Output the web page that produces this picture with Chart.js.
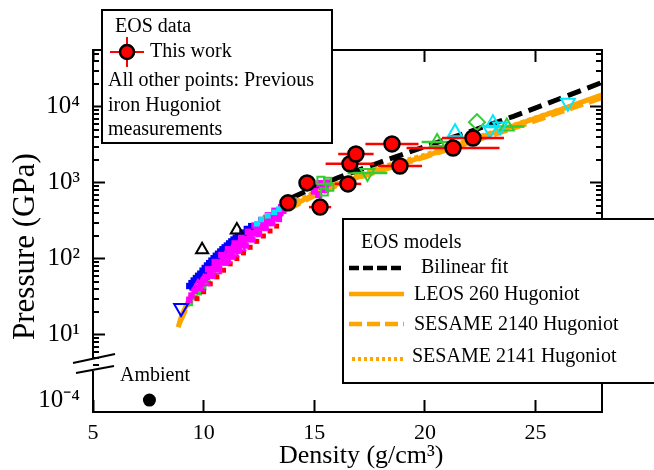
<!DOCTYPE html>
<html>
<head>
<meta charset="utf-8">
<script src="https://cdn.jsdelivr.net/npm/chart.js@4.4.0/dist/chart.umd.min.js"></script>
<style>
  html, body { margin: 0; padding: 0; background: #fff; }
  canvas { display: block; }
</style>
</head>
<body>
<canvas id="chart" width="654" height="470"></canvas>
<script>
const SERIF = '"Liberation Serif", "Times New Roman", serif'
const ORANGE = '#FFA500'
const GREEN = '#33CC33'
const CYAN = '#00E8FF'

/* axes */
const xTicks = [5, 10, 15, 20, 25]
const yTicks = [10, 100, 1000, 10000]
const yTickLabels = ['10¹', '10²', '10³', '10⁴']
const yLowTicks = [1e-4]
const yLowTickLabels = ['10⁻⁴']
const yMin = 3.9
const yMax = 56000

/* this work */
const workDensity = [13.81, 14.67, 15.26, 16.52, 16.61, 16.88, 18.51, 18.87, 21.27, 22.17]
const workPressure = [546, 1000, 480, 970, 1780, 2400, 3260, 1670, 2880, 3900]
const workErr = [0.3, 0.35, 0.5, 0.6, 1.1, 0.8, 1.2, 1.0, 2.1, 1.4]

const ambientDensity = [7.55]
const ambientPressure = [1e-4]

/* EOS models */
const leosDensity = [8.85, 9.0, 9.4, 10, 10.5, 11, 11.5, 12, 12.5, 13, 13.5, 14, 15, 16, 17, 18, 19, 20, 22, 24, 26, 28]
const leosPressure = [12.6, 17.8, 32, 52, 76, 105, 141, 190, 251, 324, 407, 500, 708, 955, 1200, 1480, 1820, 2240, 3550, 5620, 8900, 14400]
const sesame2140Density = [8.9, 9.4, 10, 11, 12, 13, 14, 15, 16, 17, 18, 19, 20, 22, 24, 26, 28]
const sesame2140Pressure = [14, 30, 50, 100, 182, 309, 479, 676, 912, 1175, 1445, 1778, 2188, 3388, 5248, 8318, 13200]
const sesame2141Density = [9.0, 9.5, 10, 11, 12, 13, 14, 15, 16, 17, 18, 19, 20, 22, 24, 26, 28]
const sesame2141Pressure = [16, 34, 54, 110, 200, 340, 530, 760, 1040, 1320, 1620, 1950, 2350, 3700, 5800, 9100, 14000]
const bilinearDensity = [14, 15, 16, 17, 18, 20, 22, 24, 26, 28]
const bilinearPressure = [640, 870, 1150, 1470, 1880, 3000, 4700, 7500, 12500, 21000]

/* previous Hugoniot measurements */
const blueDensity = [9.35, 9.45, 9.55, 9.65, 9.75, 9.85, 9.95, 10.05, 10.15, 10.25, 10.35, 10.45, 10.55, 10.65, 10.75, 10.85, 10.95, 11.05, 11.15, 11.25, 11.35, 11.45, 11.55, 11.75, 11.95, 12.15,
  9.5, 9.8, 10.1, 10.4, 10.7, 11.0, 11.3, 11.6, 11.9, 12.2]
const bluePressure = [44, 48, 52, 56, 60, 64, 70, 76, 82, 88, 95, 102, 110, 117, 125, 134, 142, 150, 160, 170, 180, 190, 200, 222, 248, 270,
  42, 53, 67, 85, 104, 126, 151, 179, 214, 250]
const magentaDensity = [9.35, 9.45, 9.6, 9.75, 9.9, 10.0, 10.15, 10.3, 10.45, 10.6, 10.75, 10.9, 11.05, 11.2, 11.35, 11.5, 11.65, 11.8, 11.95, 12.1, 12.25, 12.4, 12.55, 12.7, 12.85, 13.0, 13.15, 13.3, 13.45, 13.6, 13.75,
  10.2, 10.5, 10.8, 11.1, 11.4, 11.7, 12.0, 12.3, 12.6, 12.9, 13.2, 13.5,
  10.4, 10.7, 11.0, 11.3, 11.6, 11.9, 12.2, 12.5, 12.8, 13.1, 13.4]
const magentaPressure = [29, 33, 38, 42, 48, 52, 58, 66, 74, 81, 90, 99, 108, 119, 130, 141, 153, 166, 184, 200, 218, 238, 258, 280, 302, 324, 350, 375, 400, 430, 470,
  73, 91, 112, 134, 160, 190, 228, 275, 325, 375, 430, 480,
  60, 74, 89, 107, 128, 150, 180, 213, 255, 295, 335]
const redDensity = [9.7, 10.0, 10.3, 10.6, 10.9, 11.2, 11.5, 11.8, 12.1, 12.4, 12.7, 13.0, 13.3]
const redPressure = [30, 37, 47, 58, 71, 86, 101, 120, 142, 170, 200, 233, 270]
const greenDensity = [9.4, 9.6, 9.8, 10.0, 10.2, 10.5, 12.8, 13.2]
const greenPressure = [26, 31, 36, 42, 48, 60, 350, 420]
const cyanDensity = [12.4, 12.6, 12.9, 13.2, 13.4, 13.6]
const cyanPressure = [290, 330, 370, 410, 450, 490]
const grayDensity = [13.7, 13.9, 14.1]
const grayPressure = [470, 560, 600]
const magentaTriDensity = [9.74, 10.0, 10.5, 10.96, 11.28, 11.6]
const magentaTriPressure = [43, 50, 72, 100, 122, 145]
const magentaSquareDensity = [15.0, 15.2, 15.35, 15.5, 15.6, 15.25]
const magentaSquarePressure = [780, 700, 900, 820, 1000, 980]
const greenSquareDensity = [15.3, 15.6, 15.7, 15.45]
const greenSquarePressure = [1080, 1050, 880, 760]
const blackTriDensity = [9.93, 11.5]
const blackTriPressure = [132, 240]
const blueInvTriDensity = [8.98]
const blueInvTriPressure = [22.6]
const greenTriDensity = [20.55, 23.7]
const greenTriPressure = [3450, 5500]
const greenTriErr = [0.7, 0.8]
const greenInvTriDensity = [17.4]
const greenInvTriPressure = [1350]
const greenInvTriErr = [0.9]
const greenDiamondDensity = [22.35]
const greenDiamondPressure = [6300]
const cyanTriDensity = [21.36, 23.07]
const cyanTriPressure = [4650, 6100]
const cyanInvTriDensity = [22.94, 23.4, 26.46]
const cyanInvTriPressure = [5000, 5500, 11300]

const toPoints = (xs, ys) => xs.map((x, i) => ({ x: x, y: ys[i] }))

const dots = (xs, ys, color, style, r) => ({
    data: toPoints(xs, ys), yAxisID: 'y', order: 1,
    pointStyle: style, pointRadius: r, pointBackgroundColor: color, pointBorderWidth: 0
})
const openMarks = (xs, ys, color, style, r, rot) => ({
    data: toPoints(xs, ys), yAxisID: 'y', order: 1,
    pointStyle: style, pointRadius: r, pointRotation: rot || 0,
    pointBackgroundColor: 'rgba(0,0,0,0)', pointBorderColor: color, pointBorderWidth: 2
})
const model = (xs, ys, color, dash, width, order) => ({
    data: toPoints(xs, ys), yAxisID: 'y', order: order, showLine: true, pointRadius: 0,
    borderColor: color, borderWidth: width, borderDash: dash, fill: false
})

const datasets = [
    {
        data: toPoints(workDensity, workPressure), yAxisID: 'y', order: 0, xErr: workErr, errColor: '#FF0000',
        pointStyle: 'circle', pointRadius: 7.5, pointBackgroundColor: '#FF0000', pointBorderColor: '#000', pointBorderWidth: 2.5
    },
    { data: toPoints(ambientDensity, ambientPressure), yAxisID: 'yb', order: 0, pointRadius: 6.5, pointBackgroundColor: '#000', pointBorderWidth: 0 },
    openMarks(cyanInvTriDensity, cyanInvTriPressure, CYAN, 'triangle', 8, 180),
    openMarks(cyanTriDensity, cyanTriPressure, CYAN, 'triangle', 8),
    openMarks(greenDiamondDensity, greenDiamondPressure, GREEN, 'rectRot', 8),
    Object.assign(openMarks(greenTriDensity, greenTriPressure, GREEN, 'triangle', 8), { xErr: greenTriErr, errColor: GREEN }),
    Object.assign(openMarks(greenInvTriDensity, greenInvTriPressure, GREEN, 'triangle', 8, 180), { xErr: greenInvTriErr, errColor: GREEN }),
    openMarks(blackTriDensity, blackTriPressure, '#000', 'triangle', 7),
    openMarks(blueInvTriDensity, blueInvTriPressure, '#0000FF', 'triangle', 8, 180),
    openMarks(greenSquareDensity, greenSquarePressure, GREEN, 'rect', 5),
    dots(magentaSquareDensity, magentaSquarePressure, '#FF00FF', 'rect', 5),
    openMarks(magentaTriDensity, magentaTriPressure, '#FF00FF', 'triangle', 7),
    dots(cyanDensity, cyanPressure, CYAN, 'rect', 4),
    dots(magentaDensity, magentaPressure, '#FF00FF', 'rect', 4.5),
    dots(grayDensity, grayPressure, '#888888', 'rect', 4),
    dots(redDensity, redPressure, '#FF0000', 'rect', 3.5),
    dots(greenDensity, greenPressure, GREEN, 'rect', 4),
    dots(blueDensity, bluePressure, '#0000FF', 'rect', 4.5),
    model(bilinearDensity, bilinearPressure, '#000', [14, 7], 5, 2),
    model(leosDensity, leosPressure, ORANGE, [], 5, 3),
    model(sesame2140Density, sesame2140Pressure, ORANGE, [14, 6], 5, 3),
    model(sesame2141Density, sesame2141Pressure, ORANGE, [4, 3], 4, 3)
]

// the right-hand axis spans the whole plot height, so stretch its range to keep the same decades per pixel
const upperWeight = 316, lowerWeight = 46
const yRightMin = yMax / Math.pow(10, Math.log10(yMax / yMin) * (upperWeight + lowerWeight) / upperWeight)

function strokeSeg(ctx, x1, y1, x2, y2) {
    ctx.beginPath()
    ctx.moveTo(x1, y1)
    ctx.lineTo(x2, y2)
    ctx.stroke()
}

const inwardTicks = { display: true, drawOnChartArea: false, drawTicks: true, tickLength: -12, tickWidth: 2, tickColor: '#000' }

const frame = {
    id: 'frame',
    beforeDatasetDraw(chart, args) {
        const ds = chart.data.datasets[args.index]
        if (!ds.xErr) return
        const ctx = chart.ctx, xs = chart.scales.x, ys = chart.scales.y
        ctx.save()
        ctx.strokeStyle = ds.errColor
        ctx.lineWidth = 2.5
        ds.data.forEach((p, i) => {
            const py = ys.getPixelForValue(p.y)
            strokeSeg(ctx, xs.getPixelForValue(p.x - ds.xErr[i]), py, xs.getPixelForValue(p.x + ds.xErr[i]), py)
        })
        ctx.restore()
    },
    afterDraw(chart) {
        const ctx = chart.ctx, a = chart.chartArea, ys = chart.scales.y
        const gapTop = ys.bottom - 8, gapBottom = ys.bottom + 5
        ctx.save()
        ctx.setLineDash([])
        ctx.strokeStyle = '#000'
        ctx.fillStyle = '#000'
        ctx.lineWidth = 2

        // minor log ticks, inward
        for (let e = 0; e <= 5; e++) {
            for (let m = 2; m <= 9; m++) {
                const v = m * Math.pow(10, e)
                if (v < ys.min || v > ys.max) continue
                const py = Math.round(ys.getPixelForValue(v))
                ctx.fillRect(a.left, py - 1, 6, 2)
                ctx.fillRect(a.right - 6, py - 1, 6, 2)
            }
        }

        // frame
        strokeSeg(ctx, a.left, a.top, a.left, gapTop)
        strokeSeg(ctx, a.left, gapBottom, a.left, a.bottom)
        strokeSeg(ctx, a.left - 1, a.bottom, a.right + 1, a.bottom)
        strokeSeg(ctx, a.left - 1, a.top, a.right + 1, a.top)
        strokeSeg(ctx, a.right, a.top, a.right, a.bottom)

        // axis break
        strokeSeg(ctx, 73, 363, 115, 354)
        strokeSeg(ctx, 76, 373, 114, 366)

        // texts
        ctx.textBaseline = 'middle'
        ctx.font = '20px ' + SERIF
        ctx.fillText('Ambient', 120, 376)
        ctx.font = '26px ' + SERIF
        ctx.textBaseline = 'alphabetic'
        ctx.fillText('Density (g/cm³)', 279, 463)
        ctx.save()
        ctx.translate(34, 340)
        ctx.rotate(-Math.PI / 2)
        ctx.font = '31px ' + SERIF
        ctx.fillText('Pressure (GPa)', 0, 0)
        ctx.restore()

        // legend: EOS data
        ctx.fillStyle = '#fff'
        ctx.fillRect(102, 10, 230, 133)
        ctx.strokeRect(102, 10, 230, 133)
        ctx.fillStyle = '#000'
        ctx.textBaseline = 'middle'
        ctx.font = '20px ' + SERIF
        ctx.fillText('EOS data', 115, 27)
        ctx.fillText('This work', 150, 52)
        ctx.fillText('All other points: Previous', 108, 81)
        ctx.fillText('iron Hugoniot', 108, 106)
        ctx.fillText('measurements', 108, 130)
        ctx.strokeStyle = '#FF0000'
        strokeSeg(ctx, 110, 52, 144, 52)
        strokeSeg(ctx, 127, 37, 127, 67)
        ctx.beginPath()
        ctx.arc(127, 52, 7, 0, 2 * Math.PI)
        ctx.fillStyle = '#FF0000'
        ctx.fill()
        ctx.lineWidth = 2.5
        ctx.strokeStyle = '#000'
        ctx.stroke()

        // legend: EOS models
        ctx.lineWidth = 2
        ctx.fillStyle = '#fff'
        ctx.fillRect(343, 219, 320, 164)
        ctx.strokeRect(343, 219, 320, 164)
        ctx.fillStyle = '#000'
        ctx.fillText('EOS models', 361, 243)
        ctx.fillText('Bilinear fit', 421, 268)
        ctx.fillText('LEOS 260 Hugoniot', 414, 295)
        ctx.fillText('SESAME 2140 Hugoniot', 414, 325)
        ctx.fillText('SESAME 2141 Hugoniot', 412, 357)
        ctx.lineWidth = 4.5
        ctx.strokeStyle = '#000'
        ctx.setLineDash([10, 4])
        strokeSeg(ctx, 349, 268, 405, 268)
        ctx.strokeStyle = ORANGE
        ctx.setLineDash([])
        strokeSeg(ctx, 349, 294, 404, 294)
        ctx.setLineDash([13, 5])
        strokeSeg(ctx, 349, 324, 404, 324)
        ctx.lineWidth = 4
        ctx.setLineDash([3, 3])
        strokeSeg(ctx, 352, 359, 406, 359)
        ctx.restore()
    }
}

const tickFont = { family: SERIF, size: 25 }

new Chart(document.getElementById('chart'), {
    type: 'scatter',
    data: { datasets: datasets },
    options: {
        responsive: false,
        animation: false,
        devicePixelRatio: 1,
        layout: { padding: { left: 0, right: 52, top: 50, bottom: 0 } },
        plugins: { legend: { display: false }, tooltip: { enabled: false } },
        scales: {
            x: {
                type: 'linear', min: 5, max: 28,
                afterBuildTicks: s => { s.ticks = xTicks.map(v => ({ value: v })) },
                afterFit: s => { s.height = 58 },
                grid: inwardTicks,
                border: { display: false },
                ticks: { font: { family: SERIF, size: 22 }, color: '#000', padding: 20, maxRotation: 0, autoSkip: false }
            },
            xTop: {
                type: 'linear', position: 'top', min: 5, max: 28,
                afterBuildTicks: s => { s.ticks = xTicks.map(v => ({ value: v })) },
                afterFit: s => { s.height = 0 },
                grid: inwardTicks,
                border: { display: false },
                ticks: { display: false }
            },
            yRight: {
                type: 'logarithmic', position: 'right', min: yRightMin, max: yMax,
                afterBuildTicks: s => { s.ticks = yTicks.map(v => ({ value: v })) },
                afterFit: s => { s.width = 0 },
                grid: inwardTicks,
                border: { display: false },
                ticks: { display: false }
            },
            yb: {
                type: 'logarithmic', position: 'left', stack: 'p', stackWeight: lowerWeight,
                min: Math.pow(10, -4.26), max: Math.pow(10, -3.26),
                afterBuildTicks: s => { s.ticks = yLowTicks.map(v => ({ value: v })) },
                afterFit: s => { s.width = 93 },
                grid: { display: false, drawTicks: false },
                border: { display: false },
                ticks: { font: tickFont, color: '#000', padding: 13, autoSkip: false, callback: v => yLowTickLabels[yLowTicks.indexOf(v)] }
            },
            y: {
                type: 'logarithmic', position: 'left', stack: 'p', stackWeight: upperWeight,
                min: yMin, max: yMax,
                afterBuildTicks: s => { s.ticks = yTicks.map(v => ({ value: v })) },
                afterFit: s => { s.width = 93 },
                grid: inwardTicks,
                border: { display: false },
                ticks: { font: tickFont, color: '#000', padding: 25, autoSkip: false, callback: v => yTickLabels[yTicks.indexOf(v)] }
            }
        }
    },
    plugins: [frame]
})
</script>
</body>
</html>
